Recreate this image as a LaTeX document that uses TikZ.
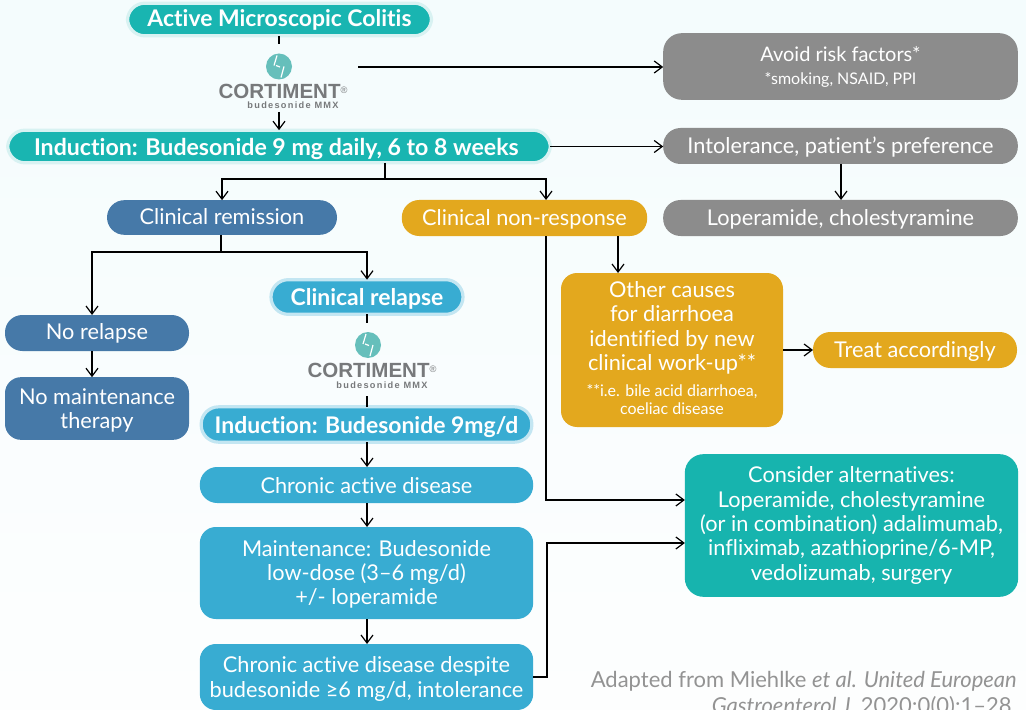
\documentclass[tikz,border=0pt]{standalone}
\usepackage{fontspec}
\setmainfont[Ligatures=NoCommon]{Lato}
\newfontfamily\logofont{Liberation Sans}
\newfontfamily\logosubfont[LetterSpace=14]{Liberation Sans}
\usetikzlibrary{arrows.meta}
\definecolor{teal1}{HTML}{19B5B1}
\definecolor{teal2}{HTML}{17B4AE}
\definecolor{navy1}{HTML}{4679A8}
\definecolor{sky1}{HTML}{38ACD2}
\definecolor{amber1}{HTML}{E3A81E}
\definecolor{grey1}{HTML}{8C8C8C}
\definecolor{logoc}{HTML}{66BFBB}
\definecolor{logot}{HTML}{77797B}
\definecolor{refc}{HTML}{939393}
\definecolor{bgtop}{HTML}{F4FCFD}
\definecolor{bgbot}{HTML}{FDFEFE}
\newcommand{\dropline}[1]{\rule{0pt}{#1}}
\newcommand{\smalltxt}{\fontsize{12}{14.5}\selectfont}
\tikzset{
  x=0.75pt,y=-0.75pt,
  basebox/.style={inner sep=0pt,outer sep=0pt,align=center,text=white,font=\fontsize{16.3}{18.2}\selectfont},
  pill/.style={basebox,rounded corners=13pt},
  card/.style={basebox,rounded corners=12pt},
  halo/.style={draw=#1,line width=2.4pt},
  strong/.style={font=\fontsize{17.2}{18}\bfseries\selectfont},
  link/.style={draw=black,line width=0.9pt},
  arr/.style={link,-{Straight Barb[length=6pt,width=9pt,line width=0.9pt]}},
  logotext/.style={inner sep=0pt,align=center,text=logot,font=\logofont\fontsize{15.4}{15}\bfseries\selectfont},
  logosub/.style={inner sep=0pt,text=logot,font=\logosubfont\fontsize{6.9}{7}\bfseries\selectfont},
  logodisc/.style={circle,fill=logoc,minimum size=19.5pt,inner sep=0pt},
  logomark/.style={draw=white,line width=0.9pt},
  refnote/.style={inner sep=0pt,align=right,text=refc,font=\fontsize{16.5}{19.5}\selectfont}
}
\begin{document}
\begin{tikzpicture}
\useasboundingbox (0,0) rectangle (1026,710);
\shade[top color=bgtop,bottom color=bgbot] (0,0) rectangle (1026,710);

% coordinates for free ends and bends
\coordinate (s1) at (279,44);
\coordinate (s2) at (279,112);
\coordinate (s3) at (358,67);
\coordinate (split1) at (385,179);
\coordinate (split2) at (221,252);
\coordinate (s4) at (367,323);
\coordinate (s5) at (367,396);
\coordinate (xnr) at (92,0);
\coordinate (xresp) at (546,0);
\coordinate (xother) at (618,0);
\coordinate (xlop) at (841,0);
\coordinate (riser) at (547,543);
\coordinate (yresp) at (0,500);

% nodes
\node[pill,strong,fill=teal1,halo={teal1!17!white},minimum width=228pt,minimum height=24.5pt] (active) at (279.5,19.5) {Active Microscopic Colitis};
\node[pill,fill=teal1,halo={teal1!17!white},minimum width=407pt,minimum height=24.5pt,font=\fontsize{17.35}{18}\bfseries\selectfont] (induct) at (279,146.5) {\dropline{16pt}Induction: Budesonide 9 mg daily, 6 to 8 weeks\kern4pt};
\node[pill,fill=navy1,minimum width=172.5pt,minimum height=26pt] (remission) at (222,217.5) {Clinical remission\rule[-2pt]{0pt}{1pt}};
\node[pill,fill=amber1,minimum width=184pt,minimum height=27pt] (nonresp) at (524.5,218) {\dropline{14pt}Clinical non-response};
\node[card,fill=grey1,minimum width=266pt,minimum height=50pt,rounded corners=14pt] (avoid) at (840.5,66.5) {{\fontsize{15}{18}\selectfont Avoid risk factors*}\\[-1pt]{\smalltxt *smoking, NSAID, PPI}};
\node[pill,fill=grey1,minimum width=266pt,minimum height=27pt] (intol) at (840.5,146) {\dropline{14pt}Intolerance, patient’s preference};
\node[pill,fill=grey1,minimum width=266pt,minimum height=27pt] (lopera) at (840.5,218) {\dropline{14pt}Loperamide, cholestyramine};
\node[pill,strong,fill=sky1,halo={sky1!30!white},minimum width=144pt,minimum height=26pt] (relapse) at (367,297) {\dropline{15pt}Clinical relapse};
\node[pill,fill=navy1,minimum width=138pt,minimum height=27pt] (norelapse) at (97,333) {No relapse};
\node[card,fill=navy1,minimum width=138pt,minimum height=47pt] (nomaint) at (97,408.5) {\dropline{15pt}No maintenance\\therapy};
\node[pill,strong,fill=sky1,halo={sky1!30!white},minimum width=248pt,minimum height=26.5pt] (induct2) at (366.5,424.5) {\dropline{16pt}Induction: Budesonide 9mg/d};
\node[pill,fill=sky1,minimum width=250pt,minimum height=27pt] (chronic) at (366.5,485) {\dropline{13pt}Chronic active disease};
\node[card,fill=sky1,minimum width=250pt,minimum height=69pt] (maint) at (366.5,573) {\dropline{14pt}Maintenance: Budesonide\\low-dose (3–6 mg/d)\\+/- loperamide};
\node[card,fill=sky1,minimum width=250pt,minimum height=49.5pt] (chronic2) at (366.5,677) {\dropline{15pt}Chronic active disease despite\\budesonide ≥6 mg/d, intolerance};
\node[card,fill=amber1,minimum width=166.5pt,minimum height=115.5pt] (other) at (672,350) {Other causes\\for diarrhoea\\identified by new\\clinical work-up**\\[1pt]{\smalltxt **i.e. bile acid diarrhoea,}\\[-4.5pt]{\smalltxt coeliac disease\rule[-3pt]{0pt}{1pt}}};
\node[pill,fill=amber1,minimum width=153pt,minimum height=27pt] (treat) at (915,350) {\dropline{14pt}Treat accordingly};
\node[card,fill=teal2,minimum width=250pt,minimum height=107pt,rounded corners=14pt] (consider) at (851.5,525.5) {Consider alternatives:\\Loperamide, cholestyramine\\(or in combination) adalimumab,\\infliximab, azathioprine/6-MP,\\vedolizumab, surgery};

% logos
\node[logodisc] (disc1) at (279,66.5) {};
\draw[logomark] (disc1.center) ++(-2,-11) -- ++(-3,10) (disc1.center) ++(-3,-1) -- ++(4,1.5) (disc1.center) ++(5,0) -- ++(-3,11);
\node[logotext] (logo1) at (283,91.5) {CORTIMENT\raisebox{4pt}{\fontsize{7}{7}\mdseries\selectfont ®}};
\node[logosub] (sub1) at (293,105) {budesonide MMX};
\node[logodisc] (disc2) at (368,345) {};
\draw[logomark] (disc2.center) ++(-2,-11) -- ++(-3,10) (disc2.center) ++(-3,-1) -- ++(4,1.5) (disc2.center) ++(5,0) -- ++(-3,11);
\node[logotext] (logo2) at (372,370.5) {CORTIMENT\raisebox{4pt}{\fontsize{7}{7}\mdseries\selectfont ®}};
\node[logosub] (sub2) at (382,385) {budesonide MMX};

% reference
\node[refnote,anchor=north east] (ref) at (1017,671) {Adapted from Miehlke \textit{et al. United European}\\\textit{Gastroenterol J.} 2020;0(0):1–28.};

% connectors
\draw[link] (active.south -| s1) -- (s1);
\draw[arr] (s2) -- (s2 |- induct.north);
\draw[arr] (s3) -- (s3 -| avoid.west);
\draw[arr] (induct.east) -- (induct.east -| intol.west);
\draw[arr] (intol.south -| xlop) -- (lopera.north -| xlop);
\draw[link] (induct.south -| split1) -- (split1);
\draw[arr] (split1) -| (remission.north);
\draw[arr] (split1) -| (nonresp.north -| xresp);
\draw[link] (remission.south -| split2) -- (split2);
\draw[arr] (split2) -| (norelapse.north -| xnr);
\draw[arr] (split2) -| (relapse.north);
\draw[arr] (norelapse.south -| xnr) -- (nomaint.north -| xnr);
\draw[link] (relapse.south) -- (s4);
\draw[link] (s5) -- (s5 |- induct2.north);
\draw[arr] (induct2.south -| s5) -- (chronic.north -| s5);
\draw[arr] (chronic.south -| s5) -- (maint.north -| s5);
\draw[arr] (maint.south -| s5) -- (chronic2.north -| s5);
\draw[arr] (chronic2.east) -| (riser) -- (riser -| consider.west);
\draw[arr] (nonresp.south -| xresp) |- (consider.west |- yresp);
\draw[arr] (nonresp.south -| xother) -- (other.north -| xother);
\draw[arr] (other.east) -- (treat.west);
\end{tikzpicture}
\end{document}
